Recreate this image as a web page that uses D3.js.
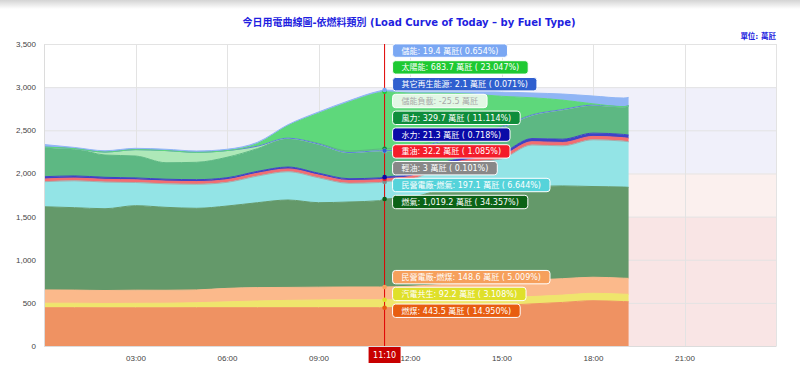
<!DOCTYPE html>
<html>
<head>
<meta charset="utf-8">
<script src="https://cdn.jsdelivr.net/npm/d3@7"></script>
<style>
  body { margin: 0; background: #fff; }
  svg { display: block; font-family: "DejaVu Sans", "Noto Sans CJK TC", sans-serif; }
</style>
</head>
<body>
<svg width="800" height="373"></svg>
<script>
// 時間點 (每小時 + 游標 11:10 + 最後一筆 19:10)
const times = ['00:00', '01:00', '02:00', '03:00', '04:00', '05:00', '06:00', '07:00', '08:00', '09:00',
  '10:00', '11:00', '11:10', '12:00', '13:00', '14:00', '15:00', '16:00', '17:00', '18:00', '19:00', '19:10'];

// 各燃料 (萬瓩)，由下往上堆疊
const coal = [444, 444, 443, 443, 443, 444, 444, 444, 444, 444, 444, 444, 443.5, 450, 460, 462, 470, 488, 505, 525, 515, 513];
const cogen = [52, 52, 50, 52, 53, 58, 68, 78, 85, 90, 92, 92, 92.2, 92, 92, 90, 88, 85, 85, 86, 86, 86];
const privateCoal = [154, 152, 150, 152, 150, 148, 156, 155, 150, 148, 148, 148, 148.6, 150, 160, 175, 185, 192, 190, 186, 185, 185];
const gas = [964, 955, 948, 979, 961, 946, 954, 984, 1013, 979, 985, 1000, 1019.2, 1028, 1096, 1116, 1102, 1085, 1075, 1051, 1056, 1055];
const privateGas = [287, 309, 306, 266, 270, 276, 272, 306, 325, 286, 214, 208, 197.1, 207, 249, 284, 322, 477, 462, 539, 530, 526];
const lightOil = [3, 3, 3, 3, 3, 3, 3, 3, 3, 3, 3, 3, 3, 3, 3, 3, 3, 3, 3, 3, 3, 3];
const heavyOil = [31, 31, 31, 31, 31, 31, 31, 32, 32, 32, 32, 32, 32.2, 33, 34, 35, 37, 38, 39, 39, 39, 39];
const hydro = [27, 25, 24, 22, 22, 22, 22, 22, 22, 21, 21, 21, 21.3, 22, 24, 28, 32, 36, 38, 38, 38, 38];
const wind = [336, 312, 258, 254, 191, 201, 237, 263, 333, 346, 321, 335, 329.7, 318, 280, 300, 308, 276, 341, 323, 320, 336];
const storageLoad = [5, 3, 33, 72, 139, 114, 76, 27, 0, -10, -20, -22, -25.5, -25, -30, -25, -15, -5, 0, 0, 0, 0];
const otherRenew = [2, 2, 2, 2, 2, 2, 2, 2, 2, 2, 2, 2, 2.1, 2, 2, 2, 2, 2, 2, 2, 2, 2];
const solar = [0, 0, 0, 0, 0, 0, 0, 30, 146, 356, 585, 674, 683.7, 650, 560, 450, 360, 200, 110, 15, 0, 0];
const storage = [30, 13, 15, 15, 15, 15, 15, 15, 10, 15, 16, 18, 19.4, 25, 30, 40, 50, 55, 70, 90, 100, 98];

const fuelNames = ['燃煤', '汽電共生', '民營電廠-燃煤', '燃氣', '民營電廠-燃氣', '輕油', '重油', '水力', '風力', '儲能負載', '其它再生能源', '太陽能', '儲能'];
const fuelValues = [coal, cogen, privateCoal, gas, privateGas, lightOil, heavyOil, hydro, wind, storageLoad, otherRenew, solar, storage];

const yTicks = [0, 500, 1000, 1500, 2000, 2500, 3000, 3500];
const cursorTime = '11:10';

// 顏色
const areaColors = ['#ef9262', '#efe56c', '#fbb98b', '#64996a', '#93e4e6', '#aaaaaa', '#f36d70', '#3e43c6', '#5db883', '#aee8b8', '#5a7fd8', '#5ed87b', '#90b5f5'];
const tipColors = ['#e85d10', '#dfe02a', '#f6a05c', '#0b6216', '#55d3da', '#888888', '#f41c2a', '#0a0aa8', '#0f8d3b', '#e2f7e5', '#2f5fcf', '#1ec932', '#7aa7f3'];

const svg = d3.select('svg');
const W = +svg.attr('width');
const H = +svg.attr('height');
const margin = { top: 44, right: 24, bottom: 27, left: 44 };

const parse = d3.timeParse('%H:%M');
const day0 = parse('00:00');
const rows = times.map((t, i) => {
  const r = { time: parse(t) };
  fuelNames.forEach((n, k) => { r[n] = fuelValues[k][i]; });
  return r;
});

const x = d3.scaleTime()
  .domain([day0, d3.timeDay.offset(day0, 1)])
  .range([margin.left, W - margin.right]);
const y = d3.scaleLinear()
  .domain([0, 3500])
  .range([H - margin.bottom, margin.top]);

// 頁框陰影
const defs = svg.append('defs');
const g1 = defs.append('linearGradient').attr('id', 'topShade').attr('x1', 0).attr('y1', 0).attr('x2', 0).attr('y2', 1);
g1.append('stop').attr('offset', 0).attr('stop-color', '#d4d4d4');
g1.append('stop').attr('offset', 1).attr('stop-color', '#fff');
svg.append('rect').attr('x', 0).attr('y', 0).attr('width', W).attr('height', 9).attr('fill', 'url(#topShade)');

// 背景色帶
const bands = [[0, 1500, '#f9e5e5'], [1500, 2000, '#fbf0ee'], [2000, 3000, '#f0f0fa']];
svg.append('g').selectAll('rect')
  .data(bands)
  .join('rect')
  .attr('x', margin.left)
  .attr('width', W - margin.right - margin.left)
  .attr('y', (d) => y(d[1]))
  .attr('height', (d) => y(d[0]) - y(d[1]))
  .attr('fill', (d) => d[2]);

// 格線
const xGrid = d3.timeHour.every(3).range(day0, d3.timeDay.offset(day0, 1)).concat([d3.timeDay.offset(day0, 1)]);
svg.append('g').selectAll('line')
  .data(yTicks)
  .join('line')
  .attr('x1', margin.left).attr('x2', W - margin.right)
  .attr('y1', (d) => y(d) + 0.5).attr('y2', (d) => y(d) + 0.5)
  .attr('stroke', '#e3e3e3');
svg.append('g').selectAll('line')
  .data(xGrid)
  .join('line')
  .attr('x1', (d) => Math.round(x(d)) + 0.5).attr('x2', (d) => Math.round(x(d)) + 0.5)
  .attr('y1', y(3500)).attr('y2', y(0))
  .attr('stroke', '#e3e3e3');

// 堆疊面積
const series = d3.stack().keys(fuelNames)(rows);
const area = d3.area()
  .x((d) => x(d.data.time))
  .y0((d) => y(d[0]))
  .y1((d) => y(d[1]))
  .curve(d3.curveMonotoneX);
const topLine = d3.line()
  .x((d) => x(d.data.time))
  .y((d) => y(d[1]))
  .curve(d3.curveMonotoneX);

const layers = svg.append('g');
layers.selectAll('path.area')
  .data(series)
  .join('path')
  .attr('class', 'area')
  .attr('d', area)
  .attr('fill', (d, i) => areaColors[i]);
layers.selectAll('path.edge')
  .data(series)
  .join('path')
  .attr('class', 'edge')
  .attr('d', topLine)
  .attr('fill', 'none')
  .attr('stroke', (d, i) => areaColors[i])
  .attr('stroke-width', 1);

// 座標軸
const yAxis = svg.append('g')
  .attr('transform', `translate(${margin.left},0)`)
  .call(d3.axisLeft(y).tickValues(yTicks).tickFormat(d3.format(',')).tickSize(0).tickPadding(8));
yAxis.select('.domain').attr('stroke', '#dcdcdc');
yAxis.selectAll('text').attr('font-size', 8).attr('fill', '#444').attr('font-family', null);

const xAxis = svg.append('g')
  .attr('transform', `translate(0,${y(0)})`)
  .call(d3.axisBottom(x)
    .tickValues(d3.timeHour.every(3).range(d3.timeHour.offset(day0, 3), d3.timeHour.offset(day0, 22)))
    .tickFormat(d3.timeFormat('%H:%M')).tickSize(0).tickPadding(9));
xAxis.select('.domain').attr('stroke', '#dcdcdc');
xAxis.selectAll('text').attr('font-size', 8).attr('fill', '#444').attr('font-family', null);

// 標題
svg.append('text')
  .attr('x', 409).attr('y', 26)
  .attr('text-anchor', 'middle')
  .attr('font-size', 10).attr('font-weight', 'bold')
  .attr('fill', '#1f1fe0')
  .text('今日用電曲線圖-依燃料類別 (Load Curve of Today – by Fuel Type)');
svg.append('text')
  .attr('x', W - margin.right).attr('y', 39)
  .attr('text-anchor', 'end')
  .attr('font-size', 7.5).attr('font-weight', 'bold')
  .attr('fill', '#1f1fe0')
  .text('單位: 萬瓩');

// 游標
const ci = times.indexOf(cursorTime);
const cx = x(parse(cursorTime));
svg.append('line')
  .attr('x1', cx).attr('x2', cx)
  .attr('y1', y(3500)).attr('y2', y(0))
  .attr('stroke', '#e00000').attr('stroke-width', 1);
svg.append('rect')
  .attr('x', cx - 16).attr('y', y(0) + 1)
  .attr('width', 32).attr('height', 16)
  .attr('fill', '#c80000');
svg.append('text')
  .attr('x', cx).attr('y', y(0) + 12)
  .attr('text-anchor', 'middle')
  .attr('font-size', 8).attr('fill', '#fff')
  .text(cursorTime);

// 游標點
svg.append('g').selectAll('circle')
  .data(series)
  .join('circle')
  .attr('cx', cx)
  .attr('cy', (d) => y(d[ci][1]))
  .attr('r', 2.3)
  .attr('fill', (d, i) => tipColors[i]);

// 提示框
const total = d3.sum(fuelValues, (v) => v[ci]);
const num = d3.formatLocale({ decimal: '.', thousands: ',', grouping: [3], currency: ['', ''], minus: '-' }).format(',');
const pitch = 16.8;
let prev = Infinity;
const tips = series.map((s, i) => {
  const v = fuelValues[i][ci];
  const pct = (v / total * 100).toFixed(3);
  let label;
  if (v < 0) label = `${fuelNames[i]}: ${num(v)} 萬瓩`;
  else if (i === fuelNames.length - 1) label = `${fuelNames[i]}: ${num(v)} 萬瓩( ${pct}%)`;
  else label = `${fuelNames[i]}: ${num(v)} 萬瓩 ( ${pct}%)`;
  const c = Math.min(y(s[ci][1]) + 3, prev - pitch);
  prev = c;
  return { label, c, color: tipColors[i], dim: v < 0 };
});

const tipG = svg.append('g').selectAll('g')
  .data(tips)
  .join('g')
  .attr('transform', (d) => `translate(${cx + 8},${d.c})`);
const tipRect = tipG.append('rect')
  .attr('y', -6.7).attr('height', 13.4).attr('rx', 3)
  .attr('fill', (d) => d.color)
  .attr('stroke', '#fff').attr('stroke-width', 1);
const tipText = tipG.append('text')
  .attr('x', 9).attr('y', 3)
  .attr('font-size', 8)
  .attr('fill', (d) => (d.dim ? '#a9aaa9' : '#fff'))
  .text((d) => d.label);
tipText.each(function (d) { d.w = this.getComputedTextLength(); });
tipRect.attr('width', (d) => d.w + 18);
</script>
</body>
</html>
